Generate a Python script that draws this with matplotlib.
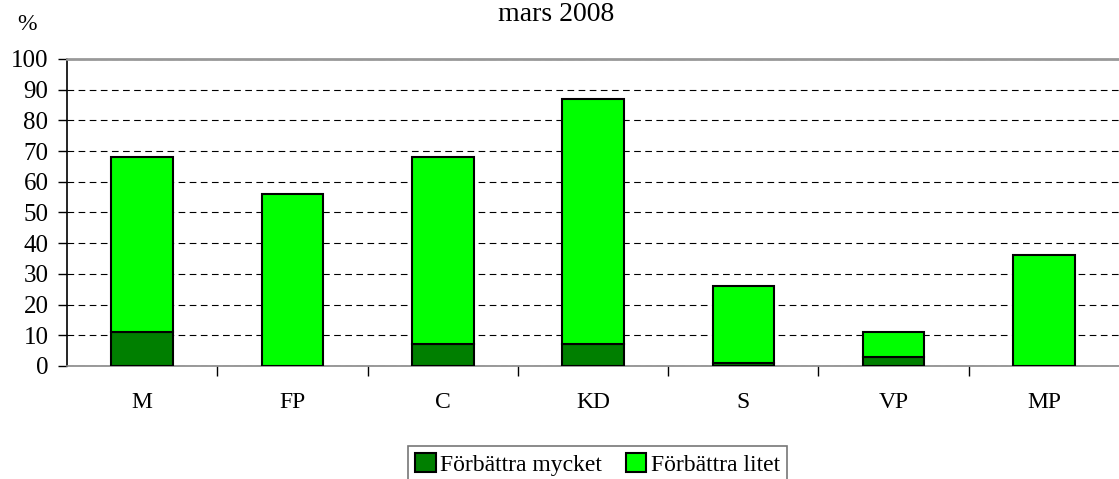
import matplotlib.pyplot as plt
import numpy as np

parties = ["M", "FP", "C", "KD", "S", "VP", "MP"]
mycket = [11, 0, 7, 7, 1, 3, 0]
litet = [57, 56, 61, 80, 25, 8, 36]

plt.rcParams['font.family'] = ['Liberation Serif', 'DejaVu Serif']

fig = plt.figure(figsize=(11.19, 4.79), dpi=100)
ax = fig.add_axes([0.06, 0.236, 0.94, 0.641])

x = np.arange(len(parties))
w = 0.41
ax.bar(x, mycket, w, color="#007F00", edgecolor="black", linewidth=1.5,
       label="Förbättra mycket", zorder=3)
ax.bar(x, litet, w, bottom=mycket, color="#00FF00", edgecolor="black",
       linewidth=1.5, label="Förbättra litet", zorder=3)

ax.set_xlim(-0.5, len(parties) - 0.5)
ax.set_ylim(0, 100)
ax.set_yticks(range(0, 101, 10))
ax.yaxis.grid(True, linestyle=(0, (6, 4)), color="black", linewidth=0.8, zorder=0)
ax.set_axisbelow(True)

ax.set_xticks(x)
ax.set_xticklabels(parties, fontsize=17)
ax.tick_params(axis='x', length=0, pad=19)
ax.set_xticks(np.arange(0.5, len(parties) - 0.5, 1), minor=True)
ax.tick_params(axis='x', which='minor', length=7, width=1, direction='out')
ax.tick_params(axis='y', labelsize=18, length=6.5, width=1, direction='out', pad=7)

ax.spines["right"].set_visible(False)
ax.spines["top"].set_color("#999999")
ax.spines["top"].set_linewidth(2)
ax.spines["left"].set_linewidth(1.2)
ax.spines["bottom"].set_color("#888888")
ax.spines["bottom"].set_linewidth(1.2)

fig.text(0.497, 0.956, "mars 2008", ha="center", va="baseline", fontsize=20)
fig.text(0.024, 0.937, "%", ha="center", va="baseline", fontsize=17)

leg = fig.legend(loc="center", bbox_to_anchor=(0.534, 0.03), ncol=2,
                 fontsize=17, frameon=True, fancybox=False, handlelength=0.85,
                 handleheight=0.85, handletextpad=0.2, columnspacing=1.0,
                 borderpad=0.3)
leg.get_frame().set_edgecolor("#555555")
leg.get_frame().set_linewidth(1.2)

fig.savefig("out.png", dpi=100)
